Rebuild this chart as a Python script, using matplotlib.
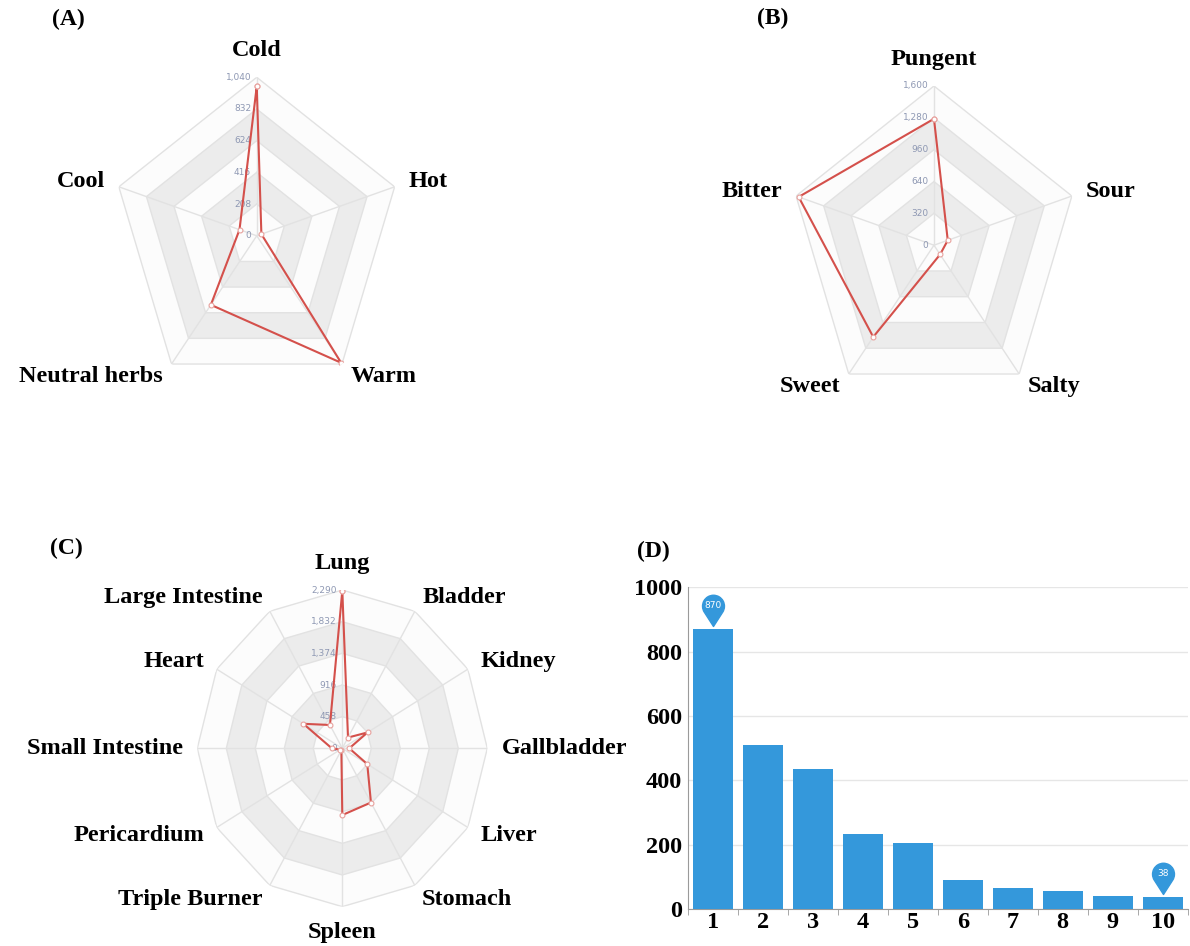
import numpy as np
import matplotlib.pyplot as plt
from matplotlib.path import Path
from matplotlib.transforms import ScaledTranslation

# (A) four natures / five tastes etc.
nature_labels = ['Cold', 'Hot', 'Warm', 'Neutral herbs', 'Cool']
nature_counts = [980, 35, 1030, 560, 130]
nature_ticks = [0, 208, 416, 624, 832, 1040]

# (B) flavours
flavor_labels = ['Pungent', 'Sour', 'Salty', 'Sweet', 'Bitter']
flavor_counts = [1270, 160, 115, 1140, 1570]
flavor_ticks = [0, 320, 640, 960, 1280, 1600]

# (C) meridian tropism
meridian_labels = ['Lung', 'Bladder', 'Kidney', 'Gallbladder', 'Liver', 'Stomach',
                   'Spleen', 'Triple Burner', 'Pericardium', 'Small Intestine',
                   'Heart', 'Large Intestine']
meridian_counts = [2280, 180, 460, 110, 455, 905, 965, 30, 40, 165, 710, 390]
meridian_ticks = [0, 458, 916, 1374, 1832, 2290]

# (D) bar chart
bar_x = [1, 2, 3, 4, 5, 6, 7, 8, 9, 10]
bar_counts = [870, 510, 437, 235, 207, 92, 65, 58, 42, 38]

red = '#d4504b'
blue = '#3498db'
band_light = '#fcfcfc'
band_gray = '#ececec'
grid_col = '#e2e2e2'
tick_col = '#8e98b3'
label_font = dict(family='Liberation Serif', weight='bold', size=17.5)

fig = plt.figure(figsize=(11.9, 9.46), dpi=100)


def radar(rect, labels, counts, ticks):
    ax = fig.add_axes(rect, projection='polar')
    ax.set_aspect('auto')
    ax.set_theta_zero_location('N')
    ax.set_theta_direction(-1)
    ax.grid(False)
    ax.set_xticks([])
    ax.set_yticks([])
    ax.spines['polar'].set_visible(False)
    ax.patch.set_facecolor('none')

    n = len(labels)
    theta = np.linspace(0, 2 * np.pi, n, endpoint=False)
    ring = np.append(theta, theta[0])
    rmax = ticks[-1]

    # split areas, painted from outside in
    for i in range(len(ticks) - 1, 0, -1):
        color = band_light if i % 2 == 1 else band_gray
        ax.fill(ring, [ticks[i]] * len(ring), color=color, lw=0, zorder=1)
    for t in ticks[1:]:
        ax.plot(ring, [t] * len(ring), color=grid_col, lw=1, zorder=2)
    for th in theta:
        ax.plot([th, th], [0, rmax], color=grid_col, lw=1, zorder=2)

    vals = np.append(counts, counts[0])
    ax.plot(ring, vals, color=red, lw=1.5, zorder=4,
            marker='o', ms=3.5, mfc='white', mec='#e8a19d', mew=0.8)

    for t in ticks:
        ax.annotate(f'{t:,}', xy=(0, t), xytext=(-4, 0), textcoords='offset points',
                    ha='right', va='center', fontsize=6.5, color=tick_col, zorder=3)

    for th, name in zip(theta, labels):
        s, c = np.sin(th), np.cos(th)
        if abs(s) < 0.05:
            ha = 'center'
            va = 'bottom' if c > 0 else 'top'
        else:
            ha = 'left' if s > 0 else 'right'
            va = 'center'
        ax.text(th, rmax * 1.1, name, ha=ha, va=va, **label_font)
    ax.set_ylim(0, rmax)
    return ax


radar([0.0939, 0.5832, 0.2437, 0.3351], nature_labels, nature_counts, nature_ticks)
radar([0.663, 0.5725, 0.2437, 0.3366], flavor_labels, flavor_counts, flavor_ticks)
radar([0.1658, 0.0416, 0.2437, 0.3347], meridian_labels, meridian_counts, meridian_ticks)

# bar chart
ax = fig.add_axes([0.578, 0.0388, 0.42, 0.3404])
ax.bar(bar_x, bar_counts, width=0.8, color=blue, zorder=3)
ax.set_xlim(0.5, 10.5)
ax.set_ylim(0, 1000)
ax.set_yticks(range(0, 1001, 200))
ax.yaxis.grid(True, color='#e6e6e6', lw=1)
ax.set_axisbelow(True)
for side in ['top', 'right']:
    ax.spines[side].set_visible(False)
for side in ['left', 'bottom']:
    ax.spines[side].set_color('#9a9a9a')
ax.set_xticks(bar_x)
ax.set_xticks(np.arange(0.5, 11, 1), minor=True)
ax.tick_params(axis='y', length=0, pad=4)
ax.tick_params(axis='x', which='major', length=0, pad=2)
ax.tick_params(axis='x', which='minor', length=4, color='#9a9a9a')
for lab in ax.get_xticklabels() + ax.get_yticklabels():
    lab.set_fontfamily('Liberation Serif')
    lab.set_fontweight('bold')
    lab.set_fontsize(17.5)

# pin markers for max and min
r_pin, d_pin = 1.0, 1.85
a = np.degrees(np.arccos(r_pin / d_pin))
arc = Path.arc(-90 + a, 270 - a)
verts = np.vstack([arc.vertices + [0, d_pin], [[0, 0], [0, 0]]])
codes = list(arc.codes) + [Path.LINETO, Path.CLOSEPOLY]
pin = Path(verts, codes)
pin_ms = 45
unit_px = pin_ms * 0.5 / (d_pin + r_pin) * 100 / 72
lift = ScaledTranslation(0, 3 / 100, fig.dpi_scale_trans)
for idx in [int(np.argmax(bar_counts)), int(np.argmin(bar_counts))]:
    x, v = bar_x[idx], bar_counts[idx]
    ax.plot([x], [v], marker=pin, ms=pin_ms, color=blue, ls='none',
            transform=ax.transData + lift, clip_on=False, zorder=5)
    ax.annotate(str(v), xy=(x, v), xytext=(0, 3 + d_pin * unit_px),
                textcoords='offset pixels', ha='center', va='center',
                fontsize=6.5, color='white', zorder=6)

# panel tags
tag_font = dict(family='Liberation Serif', weight='bold', size=17)
fig.text(0.0437, 0.979, '(A)', ha='left', va='center', **tag_font)
fig.text(0.636, 0.981, '(B)', ha='left', va='center', **tag_font)
fig.text(0.042, 0.4207, '(C)', ha='left', va='center', **tag_font)
fig.text(0.535, 0.4175, '(D)', ha='left', va='center', **tag_font)

fig.savefig('out.png', dpi=100)
